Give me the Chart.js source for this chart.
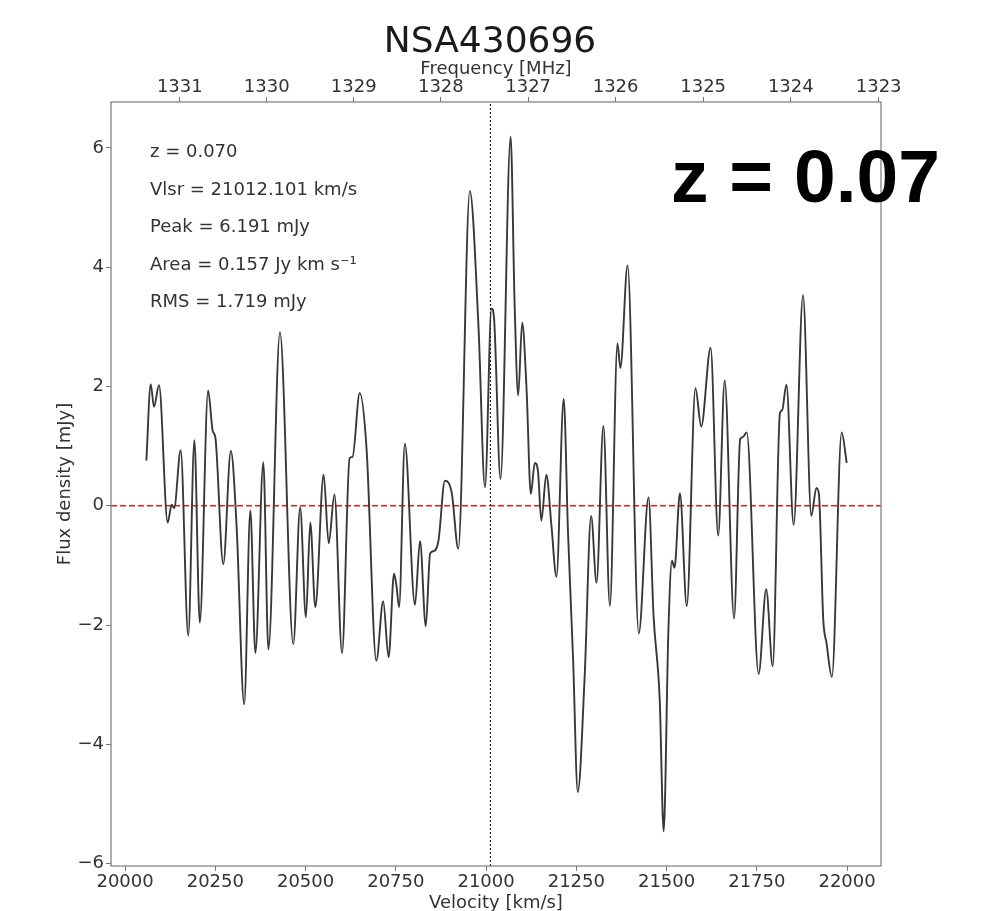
<!DOCTYPE html>
<html>
<head>
<meta charset="utf-8">
<script src="https://cdn.jsdelivr.net/npm/chart.js@4.4.1/dist/chart.umd.min.js"></script>
<style>
  html, body { margin: 0; padding: 0; background: #fff; }
  canvas { display: block; }
</style>
</head>
<body>
<canvas id="spec" width="994" height="911"></canvas>
<script>
// spectrum (velocity in km/s, flux in mJy)
const velocity = [
  20059, 20071, 20080, 20094, 20118, 20129, 20136, 20154, 20175, 20192,
  20207, 20230, 20243, 20250, 20272, 20293, 20309, 20330, 20347, 20361,
  20383, 20397, 20429, 20466, 20485, 20501, 20513, 20527, 20550, 20564,
  20580, 20601, 20622, 20630, 20650, 20669, 20696, 20715, 20730, 20745,
  20752, 20759, 20775, 20803, 20817, 20833, 20845, 20855, 20868, 20886,
  20905, 20923, 20955, 20979, 20997, 21015, 21022, 21040, 21068, 21079,
  21089, 21100, 21112, 21124, 21135, 21144, 21153, 21167, 21181, 21195,
  21215, 21227, 21241, 21254, 21273, 21291, 21306, 21325, 21343, 21364,
  21372, 21392, 21423, 21450, 21464, 21481, 21492, 21505, 21515, 21522,
  21537, 21556, 21580, 21596, 21622, 21643, 21661, 21687, 21704, 21711,
  21722, 21755, 21776, 21794, 21814, 21820, 21832, 21852, 21878, 21901,
  21915, 21922, 21934, 21943, 21958, 21985, 21999
];
const flux = [
  0.76, 2.04, 1.66, 2.02, -0.28, 0.02, -0.04, 0.93, -2.18, 1.10,
  -1.96, 1.93, 1.25, 1.15, -0.98, 0.92, -0.35, -3.33, -0.08, -2.47,
  0.73, -2.41, 2.91, -2.32, -0.03, -1.87, -0.28, -1.70, 0.52, -0.63,
  0.19, -2.47, 0.80, 0.82, 1.89, 0.95, -2.60, -1.60, -2.54, -1.14,
  -1.35, -1.70, 1.04, -1.66, -0.59, -2.02, -0.80, -0.76, -0.59, 0.42,
  0.21, -0.72, 5.28, 3.00, 0.31, 3.31, 3.15, 0.45, 6.19, 3.40,
  1.85, 3.07, 1.98, 0.20, 0.72, 0.57, -0.25, 0.52, -0.33, -1.19,
  1.79, -0.45, -2.56, -4.80, -2.88, -0.17, -1.29, 1.34, -1.68, 2.72,
  2.31, 4.03, -2.14, 0.14, -1.85, -3.25, -5.46, -2.10, -0.92, -1.04,
  0.21, -1.68, 1.97, 1.33, 2.65, -0.50, 2.10, -1.89, 1.12, 1.15,
  1.23, -2.82, -1.40, -2.69, 1.55, 1.60, 2.03, -0.32, 3.53, -0.17,
  0.30, 0.20, -1.90, -2.30, -2.87, 1.23, 0.72
];

const velTicks = [20000, 20250, 20500, 20750, 21000, 21250, 21500, 21750, 22000];
const fluxTicks = [-6, -4, -2, 0, 2, 4, 6];
const freqTicks = [1331, 1330, 1329, 1328, 1327, 1326, 1325, 1324, 1323];

const infoLines = [
  'z = 0.070',
  'Vlsr = 21012.101 km/s',
  'Peak = 6.191 mJy',
  'Area = 0.157 Jy km s\u207B\u00B9',
  'RMS = 1.719 mJy'
];
const vlsr = 21012.101;

const xMin = 19961, xMax = 22094;
const yMin = -6.04, yMax = 6.77;

const f0 = 1420.405751;   // HI rest frequency, MHz
const cKms = 300000;
const freqToVel = f => cKms * (f0 / f - 1);

const FONT = 'DejaVu Sans';
const tickFont = { family: FONT, size: 18 };
const tickGrid = { display: true, drawOnChartArea: false, drawTicks: true, tickLength: 5, tickColor: '#777', color: '#777' };

const framePlugin = {
  id: 'frame',
  afterDatasetsDraw(chart) {
    const { ctx, chartArea: a } = chart;
    ctx.save();
    ctx.strokeStyle = '#7a7a7a';
    ctx.lineWidth = 1.2;
    ctx.strokeRect(a.left, a.top, a.right - a.left, a.bottom - a.top);
    ctx.restore();
  }
};

const textPlugin = {
  id: 'texts',
  afterDraw(chart) {
    const { ctx, chartArea: a } = chart;
    const midX = (a.left + a.right) / 2;
    ctx.save();
    ctx.fillStyle = '#1a1a1a';
    ctx.textBaseline = 'alphabetic';

    ctx.textAlign = 'center';
    ctx.font = '36px "DejaVu Sans"';
    ctx.fillText('NSA430696', 490, 52);

    ctx.fillStyle = '#333';
    ctx.font = '18px "DejaVu Sans"';
    ctx.fillText('Frequency [MHz]', midX, 74);
    ctx.fillText('Velocity [km/s]', midX, 908);

    ctx.save();
    ctx.translate(70, (a.top + a.bottom) / 2);
    ctx.rotate(-Math.PI / 2);
    ctx.fillText('Flux density [mJy]', 0, 0);
    ctx.restore();

    ctx.textAlign = 'left';
    infoLines.forEach((t, i) => ctx.fillText(t, a.left + 39, 157 + i * 37.5));

    ctx.fillStyle = '#000';
    ctx.font = 'bold 75px "Liberation Sans"';
    ctx.fillText('z = 0.07', 671, 202);
    ctx.restore();
  }
};

new Chart(document.getElementById('spec').getContext('2d'), {
  type: 'line',
  data: {
    datasets: [
      {
        label: 'spectrum',
        data: velocity.map((v, i) => ({ x: v, y: flux[i] })),
        borderColor: '#383838',
        borderWidth: 1.9,
        pointRadius: 0,
        cubicInterpolationMode: 'monotone',
        fill: false
      },
      {
        label: 'zero',
        data: [{ x: xMin, y: 0 }, { x: xMax, y: 0 }],
        borderColor: 'rgba(240, 0, 0, 0.9)',
        borderWidth: 1.3,
        borderDash: [6, 3],
        pointRadius: 0
      },
      {
        label: 'vlsr',
        data: [{ x: vlsr, y: yMin }, { x: vlsr, y: yMax }],
        borderColor: '#222',
        borderWidth: 1.2,
        borderDash: [2, 2],
        pointRadius: 0
      }
    ]
  },
  options: {
    responsive: false,
    animation: false,
    devicePixelRatio: 1,
    layout: { padding: { left: 0, right: 113, top: 0, bottom: 0 } },
    plugins: { legend: { display: false }, tooltip: { enabled: false } },
    scales: {
      x: {
        type: 'linear',
        position: 'bottom',
        min: xMin,
        max: xMax,
        afterBuildTicks: s => { s.ticks = velTicks.map(v => ({ value: v })); },
        afterFit: s => { s.height = 45; },
        ticks: { font: tickFont, color: '#333', padding: 1, maxRotation: 0, autoSkip: false, callback: v => String(v) },
        grid: tickGrid,
        border: { display: false }
      },
      x2: {
        type: 'linear',
        position: 'top',
        min: xMin,
        max: xMax,
        afterBuildTicks: s => { s.ticks = freqTicks.map(f => ({ value: freqToVel(f) })); },
        afterFit: s => { s.height = 102; },
        ticks: { font: tickFont, color: '#333', padding: -1, maxRotation: 0, autoSkip: false, callback: (v, i) => String(freqTicks[i]) },
        grid: tickGrid,
        border: { display: false }
      },
      y: {
        type: 'linear',
        min: yMin,
        max: yMax,
        afterBuildTicks: s => { s.ticks = fluxTicks.map(v => ({ value: v })); },
        afterFit: s => { s.width = 111; },
        ticks: { font: tickFont, color: '#333', padding: 2, callback: v => (v < 0 ? '\u2212' + Math.abs(v) : String(v)) },
        grid: tickGrid,
        border: { display: false }
      }
    }
  },
  plugins: [framePlugin, textPlugin]
});
</script>
</body>
</html>
